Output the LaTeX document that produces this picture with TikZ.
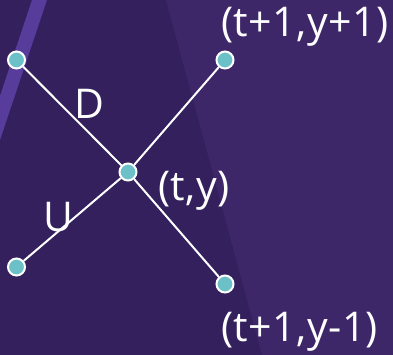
\documentclass[tikz,border=0pt]{standalone}
\usepackage{fontspec}
\setmainfont{Open Sans}[LetterSpace=1.2]
\begin{document}
\begin{tikzpicture}[x=1pt,y=-1pt,
  pt/.style={circle,draw=white,line width=2pt,fill=tealdot,minimum size=17pt,inner sep=0pt},
  edge/.style={draw=white,line width=2pt},
  lbl/.style={text=white,inner sep=0pt,font=\fontsize{41}{50}\selectfont}]
\definecolor{bgdark}{HTML}{33205D}
\definecolor{bgright}{HTML}{3D2769}
\definecolor{stripe}{HTML}{573C9C}
\definecolor{tealdot}{HTML}{6CC0C8}
\useasboundingbox (0,0) rectangle (393,355);
\fill[bgdark] (0,0) rectangle (393,355);
\fill[bgright] (166,0) -- (393,0) -- (393,355) -- (262,355) -- cycle;
\fill[stripe] (32,0) -- (47,0) -- (0,140) -- (0,96) -- cycle;
\node[pt] (tl) at (16.5,60) {};
\node[pt] (tr) at (225,60) {};
\node[pt] (c) at (128,172) {};
\node[pt] (bl) at (16.5,267) {};
\node[pt] (br) at (225,284) {};
\draw[edge] (tl) -- (c) -- (br);
\draw[edge] (bl) -- (c) -- (tr);
\node[lbl] (ld) at (89,104) {D};
\node[lbl] (lu) at (58,217) {U};
\node[lbl,anchor=west] (ltr) at (221,27) {(t+1,y+1)};
\node[lbl,anchor=west] (lc) at (158,191) {(t,y)};
\node[lbl,anchor=west] (lbr) at (221,332) {(t+1,y-1)};
\end{tikzpicture}
\end{document}
